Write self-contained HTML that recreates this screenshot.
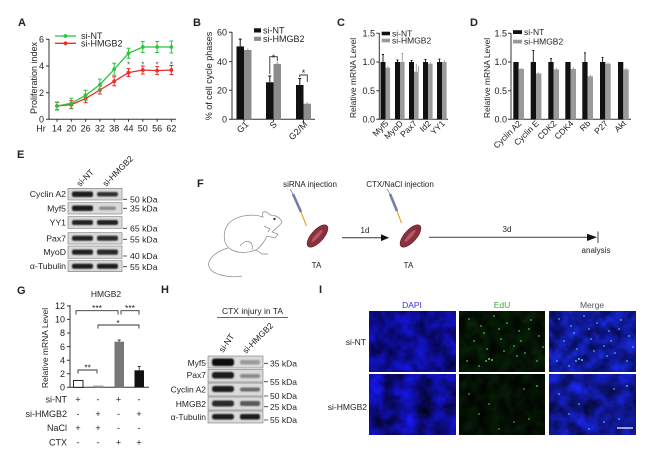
<!DOCTYPE html>
<html><head><meta charset="utf-8"><style>
html,body{margin:0;padding:0;background:#fff}
svg{display:block}
text{font-family:"Liberation Sans",Arial,sans-serif;fill:#222}
</style></head><body>
<svg width="659" height="476" viewBox="0 0 659 476" xmlns="http://www.w3.org/2000/svg">
<defs>
<filter id="bl" x="-20%" y="-50%" width="140%" height="200%"><feGaussianBlur stdDeviation="0.9"/></filter>
<filter id="d1" x="0" y="0" width="1" height="1" color-interpolation-filters="sRGB"><feTurbulence type="fractalNoise" baseFrequency="0.07" numOctaves="3" seed="3"/><feColorMatrix type="matrix" values="0.1 0 0 0 0  0.1 0 0 0 0  0.9 0 0 0 0.12  0 0 0 0 1"/></filter>
<filter id="d2" x="0" y="0" width="1" height="1" color-interpolation-filters="sRGB"><feTurbulence type="fractalNoise" baseFrequency="0.06" numOctaves="3" seed="11"/><feColorMatrix type="matrix" values="0.1 0 0 0 0  0.1 0 0 0 0  1.1 0 0 0 0  0 0 0 0 1"/></filter>
<filter id="e1" x="0" y="0" width="1" height="1" color-interpolation-filters="sRGB"><feTurbulence type="fractalNoise" baseFrequency="0.09" numOctaves="2" seed="5"/><feColorMatrix type="matrix" values="0.04 0 0 0 0  0.2 0 0 0 -0.02  0.04 0 0 0 0  0 0 0 0 1"/></filter>
<filter id="e2" x="0" y="0" width="1" height="1" color-interpolation-filters="sRGB"><feTurbulence type="fractalNoise" baseFrequency="0.09" numOctaves="2" seed="9"/><feColorMatrix type="matrix" values="0.03 0 0 0 0  0.16 0 0 0 -0.02  0.03 0 0 0 0  0 0 0 0 1"/></filter>
<filter id="m1" x="0" y="0" width="1" height="1" color-interpolation-filters="sRGB"><feTurbulence type="fractalNoise" baseFrequency="0.08" numOctaves="3" seed="7"/><feColorMatrix type="matrix" values="0.12 0 0 0 0  0.2 0 0 0 0  0.9 0 0 0 0.15  0 0 0 0 1"/></filter>
<filter id="m2" x="0" y="0" width="1" height="1" color-interpolation-filters="sRGB"><feTurbulence type="fractalNoise" baseFrequency="0.065" numOctaves="3" seed="19"/><feColorMatrix type="matrix" values="0.12 0 0 0 0  0.18 0 0 0 0  1.1 0 0 0 0.02  0 0 0 0 1"/></filter>
</defs>

<!-- ================= A ================= -->
<text x="18" y="26" font-size="11" font-weight="bold">A</text>
<g stroke="#333" stroke-width="1" fill="none">
<path d="M49 39V119.3H176"/>
<path d="M46 119.3H49M46 92.7H49M46 66H49M46 39.3H49"/>
<path d="M57 119.3v2.5M71.3 119.3v2.5M85.6 119.3v2.5M99.9 119.3v2.5M114.2 119.3v2.5M128.5 119.3v2.5M142.8 119.3v2.5M157.1 119.3v2.5M171.4 119.3v2.5"/>
</g>
<g font-size="9" text-anchor="end">
<text x="44" y="122.5">0</text><text x="44" y="95.9">2</text><text x="44" y="69.2">4</text><text x="44" y="42.5">6</text>
</g>
<text transform="translate(37,78) rotate(-90)" font-size="9" text-anchor="middle">Proliferation index</text>
<g font-size="9" text-anchor="middle">
<text x="41" y="131.5">Hr</text><text x="57" y="131.5">14</text><text x="71.3" y="131.5">20</text><text x="85.6" y="131.5">26</text><text x="99.9" y="131.5">32</text><text x="114.2" y="131.5">38</text><text x="128.5" y="131.5">44</text><text x="142.8" y="131.5">50</text><text x="157.1" y="131.5">56</text><text x="171.4" y="131.5">62</text>
</g>
<g stroke="#ee2a2a" stroke-width="1" fill="none">
<polyline stroke-width="1.3" points="57,106 71.3,104.6 85.6,98.6 99.9,90 114.2,81.3 128.5,72.6 142.8,70 157.1,70.6 171.4,70"/>
<path d="M57 102.5V109.5M55 102.5H59M55 109.5H59M71.3 100.6V108.6M69.3 100.6H73.3M69.3 108.6H73.3M85.6 94.6V102.6M83.6 94.6H87.6M83.6 102.6H87.6M99.9 86V94M97.9 86H101.9M97.9 94H101.9M114.2 76.8V85.8M112.2 76.8H116.2M112.2 85.8H116.2M128.5 68.6V76.6M126.5 68.6H130.5M126.5 76.6H130.5M142.8 66V74M140.8 66H144.8M140.8 74H144.8M157.1 66.6V74.6M155.1 66.6H159.1M155.1 74.6H159.1M171.4 65.5V74.5M169.4 65.5H173.4M169.4 74.5H173.4"/>
</g>
<g fill="#ee2a2a"><circle cx="57" cy="106" r="1.9"/><circle cx="71.3" cy="104.6" r="1.9"/><circle cx="85.6" cy="98.6" r="1.9"/><circle cx="99.9" cy="90" r="1.9"/><circle cx="114.2" cy="81.3" r="1.9"/><circle cx="128.5" cy="72.6" r="1.9"/><circle cx="142.8" cy="70" r="1.9"/><circle cx="157.1" cy="70.6" r="1.9"/><circle cx="171.4" cy="70" r="1.9"/></g>
<g stroke="#2ec43c" stroke-width="1" fill="none">
<polyline stroke-width="1.3" points="57,106 71.3,103.3 85.6,95.3 99.9,84.6 114.2,69.3 128.5,53.3 142.8,47 157.1,47 171.4,47"/>
<path d="M57 102V110M55 102H59M55 110H59M71.3 98.3V108.3M69.3 98.3H73.3M69.3 108.3H73.3M85.6 90.3V100.3M83.6 90.3H87.6M83.6 100.3H87.6M99.9 79.1V90.1M97.9 79.1H101.9M97.9 90.1H101.9M114.2 63.3V75.3M112.2 63.3H116.2M112.2 75.3H116.2M128.5 48.3V58.3M126.5 48.3H130.5M126.5 58.3H130.5M142.8 41.5V52.5M140.8 41.5H144.8M140.8 52.5H144.8M157.1 41.5V52.5M155.1 41.5H159.1M155.1 52.5H159.1M171.4 41V53M169.4 41H173.4M169.4 53H173.4"/>
</g>
<g fill="#2ec43c"><circle cx="57" cy="106" r="1.9"/><circle cx="71.3" cy="103.3" r="1.9"/><circle cx="85.6" cy="95.3" r="1.9"/><circle cx="99.9" cy="84.6" r="1.9"/><circle cx="114.2" cy="69.3" r="1.9"/><circle cx="128.5" cy="53.3" r="1.9"/><circle cx="142.8" cy="47" r="1.9"/><circle cx="157.1" cy="47" r="1.9"/><circle cx="171.4" cy="47" r="1.9"/></g>
<g font-size="8" text-anchor="middle"><text x="128.5" y="67.5" style="fill:#555">*</text><text x="142.8" y="67.5" style="fill:#555">*</text><text x="157.1" y="67.5" style="fill:#555">*</text><text x="171.4" y="67.5" style="fill:#555">*</text></g>
<line x1="55" y1="36" x2="76" y2="36" stroke="#2ec43c" stroke-width="1.3"/><circle cx="65.5" cy="36" r="1.9" fill="#2ec43c"/>
<line x1="55" y1="43.3" x2="76" y2="43.3" stroke="#ee2a2a" stroke-width="1.3"/><circle cx="65.5" cy="43.3" r="1.9" fill="#ee2a2a"/>
<text x="81" y="39.2" font-size="9">si-NT</text>
<text x="81" y="46.5" font-size="9">si-HMGB2</text>

<!-- ================= B ================= -->
<text x="193" y="26" font-size="11" font-weight="bold">B</text>
<g stroke="#333" stroke-width="1" fill="none">
<path d="M232 32V119.3H315"/>
<path d="M229 119.3H232M229 90.2H232M229 61.6H232M229 32.3H232"/>
<path d="M244 119.3v2.5M273.5 119.3v2.5M303.5 119.3v2.5"/>
</g>
<g font-size="9" text-anchor="end">
<text x="227" y="122.5">0</text><text x="227" y="93.4">20</text><text x="227" y="64.8">40</text><text x="227" y="35.5">60</text>
</g>
<text transform="translate(212,76) rotate(-90)" font-size="9" text-anchor="middle">% of cell cycle phases</text>
<g fill="#111">
<rect x="236.5" y="46.4" width="7.5" height="72.9"/>
<rect x="266" y="82.3" width="7.5" height="37"/>
<rect x="296" y="85" width="7.5" height="34.3"/>
</g>
<g fill="#8c8c8c">
<rect x="244" y="50" width="7.5" height="69.3"/>
<rect x="273.5" y="63.9" width="7.5" height="55.4"/>
<rect x="303.5" y="103.7" width="7.5" height="15.6"/>
</g>
<g stroke="#111" stroke-width="1" fill="none">
<path d="M240.2 46.4V39.1M238.7 39.1H241.7M269.8 82.3V76M268.3 76H271.3M299.8 85V78.5M298.3 78.5H301.3"/>
</g>
<g stroke="#8c8c8c" stroke-width="1" fill="none"><path d="M247.8 50V48.8M277.3 63.9V61.7M307.3 103.7V102.4"/></g>
<g stroke="#333" stroke-width="0.9" fill="none">
<path d="M269.8 74V56.7H277.3V61"/>
<path d="M299.8 77V75H307.3V82"/>
</g>
<text x="273.5" y="61" font-size="9" text-anchor="middle">*</text>
<text x="303.5" y="76" font-size="9" text-anchor="middle">*</text>
<g font-size="9" text-anchor="end">
<text transform="translate(249,125) rotate(-45)">G1</text>
<text transform="translate(277.5,125) rotate(-45)">S</text>
<text transform="translate(308,125) rotate(-45)">G2/M</text>
</g>
<rect x="254" y="28.3" width="7" height="4.2" fill="#111"/>
<rect x="254" y="36.7" width="7" height="4.2" fill="#8c8c8c"/>
<text x="263" y="33.5" font-size="9">si-NT</text>
<text x="263" y="41.8" font-size="9">si-HMGB2</text>

<!-- ================= C ================= -->
<text x="337" y="26" font-size="11" font-weight="bold">C</text>
<g stroke="#333" stroke-width="1" fill="none">
<path d="M379.3 33V119.3H448"/>
<path d="M376.3 119.3H379.3M376.3 90.7H379.3M376.3 62H379.3M376.3 33.3H379.3"/>
</g>
<g font-size="9" text-anchor="end">
<text x="375" y="122.5">0.0</text><text x="375" y="93.9">0.5</text><text x="375" y="65.2">1.0</text><text x="375" y="36.5">1.5</text>
</g>
<text transform="translate(356,78) rotate(-90)" font-size="8.5" text-anchor="middle">Relative mRNA Level</text>
<g fill="#111">
<rect x="380.5" y="62" width="5" height="57.3"/><rect x="395" y="62" width="5" height="57.3"/><rect x="409" y="62" width="5" height="57.3"/><rect x="423" y="62" width="5" height="57.3"/><rect x="437" y="62" width="5" height="57.3"/>
</g>
<g fill="#9a9a9a">
<rect x="385.5" y="67.7" width="4.6" height="51.6"/><rect x="400" y="62" width="4.6" height="57.3"/><rect x="414" y="71.7" width="4.6" height="47.6"/><rect x="428" y="63.7" width="4.6" height="55.6"/><rect x="442" y="62" width="4.6" height="57.3"/>
</g>
<g stroke="#111" stroke-width="0.9" fill="none">
<path d="M383 62V54.5M382 54.5H384M397.5 62V60M396.5 60H398.5M411.5 62V60.5M410.5 60.5H412.5M425.5 62V59.5M424.5 59.5H426.5M439.5 62V59.1M438.5 59.1H440.5"/>
</g>
<g stroke="#9a9a9a" stroke-width="0.9" fill="none">
<path d="M387.8 67.7V66M402.3 62V53.4M401.3 53.4H403.3M416.3 71.7V63.7M418.5 71.7V66M430.3 63.7V62M444.3 62V60"/>
</g>
<g font-size="8.5" text-anchor="end">
<text transform="translate(389,124) rotate(-45)">Myf5</text>
<text transform="translate(403.5,124) rotate(-45)">MyoD</text>
<text transform="translate(417.5,124) rotate(-45)">Pax7</text>
<text transform="translate(431.5,124) rotate(-45)">Id2</text>
<text transform="translate(445.5,124) rotate(-45)">YY1</text>
</g>
<rect x="381.7" y="31.7" width="8.3" height="3.6" fill="#111"/>
<rect x="381.7" y="38.7" width="8.3" height="3.6" fill="#9a9a9a"/>
<text x="392" y="36.5" font-size="8.5">si-NT</text>
<text x="392" y="43.5" font-size="8.5">si-HMGB2</text>

<!-- ================= D ================= -->
<text x="470" y="26" font-size="11" font-weight="bold">D</text>
<g stroke="#333" stroke-width="1" fill="none">
<path d="M511 33V119.3H631"/>
<path d="M508 119.3H511M508 90.7H511M508 62H511M508 33.3H511"/>
</g>
<g font-size="9" text-anchor="end">
<text x="507" y="122.5">0.0</text><text x="507" y="93.9">0.5</text><text x="507" y="65.2">1.0</text><text x="507" y="36.5">1.5</text>
</g>
<text transform="translate(490,78) rotate(-90)" font-size="8.5" text-anchor="middle">Relative mRNA Level</text>
<g fill="#111">
<rect x="513.3" y="62" width="5.3" height="57.3"/><rect x="530.7" y="62" width="5.3" height="57.3"/><rect x="548.3" y="62" width="5.3" height="57.3"/><rect x="565.3" y="62" width="5.3" height="57.3"/><rect x="582.3" y="62" width="5.3" height="57.3"/><rect x="600" y="62" width="5.3" height="57.3"/><rect x="618" y="62" width="5.3" height="57.3"/>
</g>
<g fill="#9a9a9a">
<rect x="518.6" y="68.9" width="5.4" height="50.4"/><rect x="536" y="73.5" width="5.4" height="45.8"/><rect x="553.6" y="69.4" width="5.4" height="49.9"/><rect x="570.6" y="68.9" width="5.4" height="50.4"/><rect x="587.6" y="76.3" width="5.4" height="43"/><rect x="605.3" y="63.7" width="5.4" height="55.6"/><rect x="623.3" y="69.4" width="5.4" height="49.9"/>
</g>
<g stroke="#111" stroke-width="0.9" fill="none">
<path d="M533.3 62V50.5M532.3 50.5H534.3M551 62V58.6M550 58.6H552M585 62V52.8M584 52.8H586M602.6 62V57.4M601.6 57.4H603.6"/>
</g>
<g stroke="#9a9a9a" stroke-width="0.9" fill="none">
<path d="M521.3 68.9V67.6M538.7 73.5V72.2M556.3 69.4V67.6M573.3 68.9V67.2M590.3 76.3V74.8M608 63.7V62.2M626 69.4V67.8"/>
</g>
<g font-size="8.5" text-anchor="end">
<text transform="translate(522,124) rotate(-45)">Cyclin A2</text>
<text transform="translate(539.5,124) rotate(-45)">Cyclin E</text>
<text transform="translate(557,124) rotate(-45)">CDK2</text>
<text transform="translate(574,124) rotate(-45)">CDK4</text>
<text transform="translate(591,124) rotate(-45)">Rb</text>
<text transform="translate(608.5,124) rotate(-45)">P27</text>
<text transform="translate(626.5,124) rotate(-45)">Akt</text>
</g>
<rect x="513" y="30.2" width="9" height="3.8" fill="#111"/>
<rect x="513" y="39.7" width="9" height="3.8" fill="#9a9a9a"/>
<text x="524" y="35.2" font-size="8.5">si-NT</text>
<text x="524" y="44.7" font-size="8.5">si-HMGB2</text>

<!-- ================= E ================= -->
<text x="17" y="158" font-size="11" font-weight="bold">E</text>
<g font-size="8.5">
<text transform="translate(80,187) rotate(-45)">si-NT</text>
<text transform="translate(106,187) rotate(-45)">si-HMGB2</text>
</g>
<g fill="#dadada" stroke="#777" stroke-width="0.6">
<rect x="68" y="188.3" width="54" height="11.7"/>
<rect x="68" y="202.7" width="54" height="11.3"/>
<rect x="68" y="216.7" width="54" height="11.6"/>
<rect x="68" y="232.7" width="54" height="11.3"/>
<rect x="68" y="246" width="54" height="12.3"/>
<rect x="68" y="260.7" width="54" height="11"/>
</g>
<g filter="url(#bl)">
<rect x="72" y="191.5" width="21" height="5.5" rx="2" fill="#1a1a1a"/><rect x="97" y="192" width="21" height="4.5" rx="2" fill="#333"/>
<rect x="72" y="205.5" width="21" height="5.5" rx="2" fill="#1a1a1a"/><rect x="99" y="206.5" width="17" height="3.5" rx="2" fill="#8a8a8a"/>
<rect x="72" y="220" width="21" height="5" rx="2" fill="#222"/><rect x="97" y="220" width="21" height="5" rx="2" fill="#222"/>
<rect x="72" y="235.8" width="21" height="5" rx="2" fill="#222"/><rect x="97" y="235.8" width="21" height="5" rx="2" fill="#2a2a2a"/>
<rect x="72" y="249.5" width="21" height="5.3" rx="2" fill="#222"/><rect x="97" y="249.5" width="21" height="5.3" rx="2" fill="#2a2a2a"/>
<rect x="72" y="263.7" width="21" height="5" rx="2" fill="#1a1a1a"/><rect x="97" y="263.7" width="21" height="5" rx="2" fill="#1a1a1a"/>
</g>
<g font-size="8.7" text-anchor="end">
<text x="66" y="197.2">Cyclin A2</text><text x="66" y="211.5">Myf5</text><text x="66" y="225.7">YY1</text><text x="66" y="241.5">Pax7</text><text x="66" y="255.2">MyoD</text><text x="66" y="269.2">α-Tubulin</text>
</g>
<g stroke="#333" stroke-width="0.8"><path d="M123 199.3H127M123 208.3H127M123 228.3H127M123 239.3H127M123 256H127M123 266.7H127"/></g>
<g font-size="8.7">
<text x="130" y="202.5">50 kDa</text><text x="130" y="211.5">35 kDa</text><text x="130" y="231.5">65 kDa</text><text x="130" y="242.5">55 kDa</text><text x="130" y="259.2">40 kDa</text><text x="130" y="269.9">55 kDa</text>
</g>

<!-- ================= F ================= -->
<text x="197" y="187" font-size="11" font-weight="bold">F</text>
<text x="310" y="187" font-size="8" text-anchor="middle">siRNA injection</text>
<text x="400" y="187" font-size="8" text-anchor="middle">CTX/NaCl injection</text>
<g fill="none" stroke="#888" stroke-width="0.7">
<path d="M282,222 C280,218 276,215 270,215 C266,210 260,211 263,217 C255,214 240,214 230,222 C222,230 222,245 232,250 C240,254 250,252 256,250 L262,254 L268,254"/>
<path d="M256,250 C262,246 265,240 267,236 L275,238 L278,234 L272,232 C276,228 280,226 282,222"/>
<path d="M240,246 C246,238 254,241 252,250"/>
<path d="M228,248 C214,252 204,262 211,270 C217,276 233,278 242,276"/>
<path d="M264,226 L270,229 L268,232"/>
</g>
<circle cx="274.5" cy="219" r="1.2" fill="#333"/>
<line x1="290" y1="189" x2="293" y2="194" stroke="#999" stroke-width="1"/>
<line x1="293" y1="194" x2="301" y2="212" stroke="#7080a8" stroke-width="2.6"/>
<line x1="301" y1="212" x2="306.5" y2="226" stroke="#e0a838" stroke-width="1.2"/>
<line x1="387" y1="189" x2="390" y2="194" stroke="#999" stroke-width="1"/>
<line x1="390" y1="194" x2="397" y2="211" stroke="#7080a8" stroke-width="2.6"/>
<line x1="397" y1="211" x2="401.5" y2="223" stroke="#e0a838" stroke-width="1.2"/>
<ellipse cx="317.5" cy="236" rx="14" ry="6" transform="rotate(-48 317.5 236)" fill="#8e2f3c" stroke="#5a1a22" stroke-width="0.6"/>
<ellipse cx="317" cy="236" rx="8" ry="1.8" transform="rotate(-48 317 236)" fill="#c77a86" opacity="0.6"/>
<ellipse cx="410.5" cy="236" rx="14" ry="6" transform="rotate(-48 410.5 236)" fill="#8e2f3c" stroke="#5a1a22" stroke-width="0.6"/>
<ellipse cx="410" cy="236" rx="8" ry="1.8" transform="rotate(-48 410 236)" fill="#c77a86" opacity="0.6"/>
<text x="316.5" y="268" font-size="8" text-anchor="middle">TA</text>
<text x="408.5" y="268" font-size="8" text-anchor="middle">TA</text>
<line x1="342" y1="237.7" x2="382" y2="237.7" stroke="#333" stroke-width="1"/>
<polygon points="381,234.3 389,237.7 381,241.1" fill="#111"/>
<text x="365" y="233" font-size="8" text-anchor="middle">1d</text>
<line x1="429" y1="237.3" x2="589" y2="237.3" stroke="#555" stroke-width="1.2"/>
<polygon points="587,233.7 597,237.3 587,241" fill="#111"/>
<line x1="598" y1="231.5" x2="598" y2="243" stroke="#333" stroke-width="0.9"/>
<text x="507" y="232" font-size="8" text-anchor="middle">3d</text>
<text x="596" y="253" font-size="8" text-anchor="middle">analysis</text>

<!-- ================= G ================= -->
<text x="17" y="294" font-size="11" font-weight="bold">G</text>
<text x="106" y="297" font-size="8.5" text-anchor="middle">HMGB2</text>
<g stroke="#333" stroke-width="1" fill="none">
<path d="M70 305V387.3H149"/>
<path d="M67 387.3H70M67 373.7H70M67 360.2H70M67 346.6H70M67 333H70M67 319.4H70M67 306H70"/>
</g>
<g font-size="9" text-anchor="end">
<text x="65" y="390.5">0</text><text x="65" y="376.9">2</text><text x="65" y="363.4">4</text><text x="65" y="349.8">6</text><text x="65" y="336.2">8</text><text x="65" y="322.6">10</text><text x="65" y="309.2">12</text>
</g>
<text transform="translate(48,348) rotate(-90)" font-size="8.5" text-anchor="middle">Relative mRNA Level</text>
<rect x="73.5" y="380.5" width="9.5" height="6.8" fill="#fff" stroke="#111" stroke-width="0.9"/>
<rect x="93.5" y="386" width="9.5" height="1.3" fill="#aaa" stroke="#666" stroke-width="0.5"/>
<rect x="114.5" y="341.7" width="9.5" height="45.6" fill="#777"/>
<rect x="134.5" y="370.3" width="9.5" height="17" fill="#111"/>
<g stroke="#333" stroke-width="0.9" fill="none">
<path d="M119.2 341.7V340M117.7 340H120.7M139.2 370.3V366.5M137.7 366.5H140.7"/>
<path d="M76 314.5V310.7H118V314.5"/>
<path d="M121 314.5V310.7H139V314.5"/>
<path d="M98 328.5V325H139V328.5"/>
<path d="M78 373.5V370H97V373.5"/>
</g>
<g font-size="8.5" text-anchor="middle">
<text x="97" y="311">***</text><text x="130" y="311">***</text><text x="118" y="326">*</text><text x="87.5" y="370.5">**</text>
</g>
<g font-size="9" text-anchor="end">
<text x="67" y="402.5">si-NT</text><text x="67" y="417">si-HMGB2</text><text x="67" y="431">NaCl</text><text x="67" y="445.5">CTX</text>
</g>
<g font-size="9" text-anchor="middle">
<text x="78" y="402.5">+</text><text x="98" y="402.5">-</text><text x="118.5" y="402.5">+</text><text x="139" y="402.5">-</text>
<text x="78" y="417">-</text><text x="98" y="417">+</text><text x="118.5" y="417">-</text><text x="139" y="417">+</text>
<text x="78" y="431">+</text><text x="98" y="431">+</text><text x="118.5" y="431">-</text><text x="139" y="431">-</text>
<text x="78" y="445.5">-</text><text x="98" y="445.5">-</text><text x="118.5" y="445.5">+</text><text x="139" y="445.5">+</text>
</g>

<!-- ================= H ================= -->
<text x="161" y="293" font-size="11" font-weight="bold">H</text>
<text x="252.5" y="314" font-size="8.5" text-anchor="middle">CTX injury in TA</text>
<line x1="217" y1="317.5" x2="288" y2="317.5" stroke="#333" stroke-width="0.8"/>
<g font-size="8.5">
<text transform="translate(223,353) rotate(-55)">si-NT</text>
<text transform="translate(246,354) rotate(-45)">si-HMGB2</text>
</g>
<g fill="#dadada" stroke="#777" stroke-width="0.6">
<rect x="208" y="356" width="55" height="12"/>
<rect x="208" y="369.5" width="55" height="12.5"/>
<rect x="208" y="383" width="55" height="13"/>
<rect x="208" y="397" width="55" height="13"/>
<rect x="208" y="411" width="55" height="12"/>
</g>
<g filter="url(#bl)">
<rect x="212" y="358.5" width="22" height="7.5" rx="2.5" fill="#111"/><rect x="240" y="360" width="20" height="4.5" rx="2" fill="#9a9a9a"/>
<rect x="212" y="372" width="22" height="6.5" rx="2.5" fill="#1a1a1a"/><rect x="240" y="374" width="20" height="4" rx="2" fill="#8a8a8a"/>
<rect x="212" y="386" width="22" height="6" rx="2.5" fill="#1a1a1a"/><rect x="240" y="387.5" width="20" height="4" rx="2" fill="#6a6a6a"/>
<rect x="212" y="400.5" width="22" height="6" rx="2.5" fill="#2a2a2a"/><rect x="240" y="401" width="20" height="5" rx="2" fill="#5a5a5a"/>
<rect x="212" y="414" width="22" height="5.5" rx="2.5" fill="#1a1a1a"/><rect x="240" y="414" width="20" height="5.5" rx="2" fill="#1a1a1a"/>
</g>
<g font-size="8.5" text-anchor="end">
<text x="206" y="366">Myf5</text><text x="206" y="378">Pax7</text><text x="206" y="392.5">Cyclin A2</text><text x="206" y="407">HMGB2</text><text x="206" y="420">α-Tubulin</text>
</g>
<g stroke="#333" stroke-width="0.8"><path d="M264 363.3H268M264 381.7H268M264 396H268M264 406.7H268M264 420H268"/></g>
<g font-size="8.5">
<text x="270" y="366.5">35 kDa</text><text x="270" y="384.9">55 kDa</text><text x="270" y="399.2">50 kDa</text><text x="270" y="409.9">25 kDa</text><text x="270" y="423.2">55 kDa</text>
</g>

<!-- ================= I ================= -->
<text x="319" y="293" font-size="11" font-weight="bold">I</text>
<text x="412" y="308" font-size="8.5" text-anchor="middle" style="fill:#3535d0">DAPI</text>
<text x="502" y="308" font-size="8.5" text-anchor="middle" style="fill:#3aa83a">EdU</text>
<text x="592" y="308" font-size="8.5" text-anchor="middle" style="fill:#555">Merge</text>
<text x="366" y="345" font-size="8.5" text-anchor="end">si-NT</text>
<text x="367" y="410" font-size="8.5" text-anchor="end">si-HMGB2</text>
<rect x="369" y="311" width="87" height="61" filter="url(#d1)"/>
<rect x="369" y="374" width="87" height="61" filter="url(#d2)"/>
<rect x="459" y="311" width="86" height="61" filter="url(#e1)"/>
<rect x="459" y="374" width="86" height="61" filter="url(#e2)"/>
<rect x="549" y="311" width="87" height="61" filter="url(#m1)"/>
<rect x="549" y="374" width="87" height="61" filter="url(#m2)"/>
<g fill="#5fd35f" opacity="0.85">
<circle cx="469" cy="319" r="0.9"/><circle cx="481" cy="326" r="0.9"/><circle cx="494" cy="316" r="0.9"/><circle cx="507" cy="323" r="0.9"/><circle cx="519" cy="331" r="0.9"/><circle cx="531" cy="320" r="0.9"/><circle cx="539" cy="336" r="0.9"/><circle cx="474" cy="341" r="0.9"/><circle cx="487" cy="349" r="0.9"/><circle cx="501" cy="339" r="0.9"/><circle cx="514" cy="346" r="0.9"/><circle cx="525" cy="353" r="0.9"/><circle cx="537" cy="361" r="0.9"/><circle cx="467" cy="361" r="0.9"/><circle cx="479" cy="366" r="0.9"/><circle cx="521" cy="341" r="0.9"/><circle cx="529" cy="329" r="0.9"/><circle cx="499" cy="329" r="0.9"/><circle cx="484" cy="333" r="0.9"/><circle cx="504" cy="351" r="0.9"/><circle cx="517" cy="356" r="0.9"/><circle cx="489" cy="359" r="1.1"/><circle cx="492" cy="360" r="1.1"/><circle cx="486" cy="361" r="1"/><circle cx="543" cy="347" r="0.9"/>
</g>
<g fill="#5fd35f" opacity="0.75">
<circle cx="524" cy="389" r="0.9"/><circle cx="537" cy="386" r="1"/><circle cx="479" cy="414" r="0.9"/><circle cx="499" cy="429" r="0.9"/><circle cx="514" cy="422" r="0.9"/><circle cx="469" cy="394" r="0.9"/><circle cx="489" cy="404" r="0.9"/><circle cx="529" cy="419" r="0.9"/>
</g>
<g fill="#5fd8e8" opacity="0.8">
<circle cx="559" cy="319" r="0.9"/><circle cx="571" cy="326" r="0.9"/><circle cx="584" cy="316" r="0.9"/><circle cx="597" cy="323" r="0.9"/><circle cx="609" cy="331" r="0.9"/><circle cx="621" cy="320" r="0.9"/><circle cx="629" cy="336" r="0.9"/><circle cx="564" cy="341" r="0.9"/><circle cx="577" cy="349" r="0.9"/><circle cx="591" cy="339" r="0.9"/><circle cx="604" cy="346" r="0.9"/><circle cx="615" cy="353" r="0.9"/><circle cx="627" cy="361" r="0.9"/><circle cx="557" cy="361" r="0.9"/><circle cx="569" cy="366" r="0.9"/><circle cx="611" cy="341" r="0.9"/><circle cx="619" cy="329" r="0.9"/><circle cx="589" cy="329" r="0.9"/><circle cx="574" cy="333" r="0.9"/><circle cx="594" cy="351" r="0.9"/><circle cx="607" cy="356" r="0.9"/><circle cx="579" cy="359" r="1.1"/><circle cx="582" cy="360" r="1.1"/><circle cx="576" cy="361" r="1"/><circle cx="633" cy="347" r="0.9"/>
<circle cx="614" cy="389" r="0.9"/><circle cx="627" cy="386" r="1"/><circle cx="569" cy="414" r="0.9"/><circle cx="589" cy="429" r="0.9"/><circle cx="604" cy="422" r="0.9"/><circle cx="559" cy="394" r="0.9"/><circle cx="579" cy="404" r="0.9"/><circle cx="619" cy="419" r="0.9"/>
</g>
<line x1="617" y1="428" x2="633" y2="428" stroke="#fff" stroke-width="1.2"/>
</svg>
</body></html>
